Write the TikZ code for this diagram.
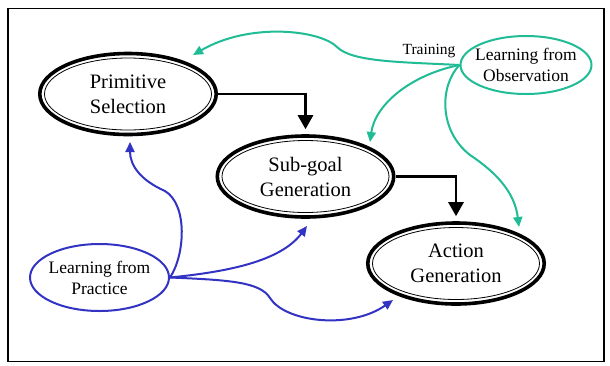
\documentclass[tikz,border=0pt]{standalone}
\usepackage{fontspec}
\setmainfont{LiberationSerif}[Extension=.ttf,UprightFont=*-Regular,BoldFont=*-Bold]
\usetikzlibrary{shapes.geometric,arrows.meta,calc}
\definecolor{teal2}{RGB}{32,188,150}
\definecolor{blue2}{RGB}{50,50,195}
\begin{document}
\begin{tikzpicture}[x=1pt,y=-1pt,
  dblell/.style={ellipse,draw=black,line width=3.6pt,inner sep=0pt,
    minimum width=176.4pt,minimum height=81pt,align=center,
    font=\fontsize{20.5}{25}\selectfont},
  learnell/.style={ellipse,line width=2pt,inner xsep=-8pt,inner ysep=-2pt,
    align=center,font=\fontsize{17.5}{21}\selectfont},
  blackarrow/.style={line width=2.8pt,-{Triangle[width=15pt,length=14pt]},shorten >=5pt},
  tealarrow/.style={draw=teal2,line width=2pt,-{Triangle[width=9pt,length=10pt]}},
  bluearrow/.style={draw=blue2,line width=2pt,-{Triangle[width=9pt,length=10pt]}}]
\useasboundingbox (0,0) rectangle (610,365);
\draw[line width=1.5pt] (8,8.5) rectangle (604,361.5);
% main nodes
\node[dblell] (ps) at (128,94) {Primitive\\Selection};
\node[dblell] (sg) at (305.5,176.5) {Sub-goal\\Generation};
\node[dblell] (ag) at (456,263.5) {Action\\Generation};
\foreach \n in {ps,sg,ag}
  \draw[line width=0.8pt] (\n.center) ellipse [x radius=83.5, y radius=36];
% learning nodes
\node[learnell,draw=teal2,minimum width=131pt,minimum height=58pt] (lfo) at (526,65) {Learning from\\Observation};
\node[learnell,draw=blue2,minimum width=139pt,minimum height=67pt] (lfp) at (99.5,277.5) {Learning from\\Practice};
\node[font=\fontsize{15.5}{18}\selectfont,inner sep=0pt] (tr) at (429,51) {Training};
% black arrows
\draw[blackarrow] (ps.east) -| (sg.north);
\draw[blackarrow] (sg.east) -| (ag.north);
% teal arrows
\draw[tealarrow] (lfo.west) .. controls (400,62) and (352,62) .. (337,47)
  .. controls (320,30) and (250,22) .. ($(ps.center)+(65,-39)$);
\draw[tealarrow] (lfo.west) .. controls (410,75) and (375,105) .. ($(sg.center)+(64.5,-34.5)$);
\draw[tealarrow] (lfo.west) .. controls (440,85) and (438,130) .. (470,155)
  .. controls (500,175) and (515,195) .. ($(ag.center)+(63,-36.5)$);
% blue arrows
\draw[bluearrow] (lfp.east) .. controls (185,255) and (188,205) .. (165,191)
  .. controls (140,180) and (130,165) .. ($(ps.center)+(2,48)$);
\draw[bluearrow] (lfp.east) .. controls (225,272) and (280,262) .. ($(sg.center)+(1.5,49.5)$);
\draw[bluearrow] (lfp.east) .. controls (230,280) and (260,282) .. (270,298)
  .. controls (285,322) and (350,330) .. ($(ag.center)+(-63,36.5)$);
\end{tikzpicture}
\end{document}
